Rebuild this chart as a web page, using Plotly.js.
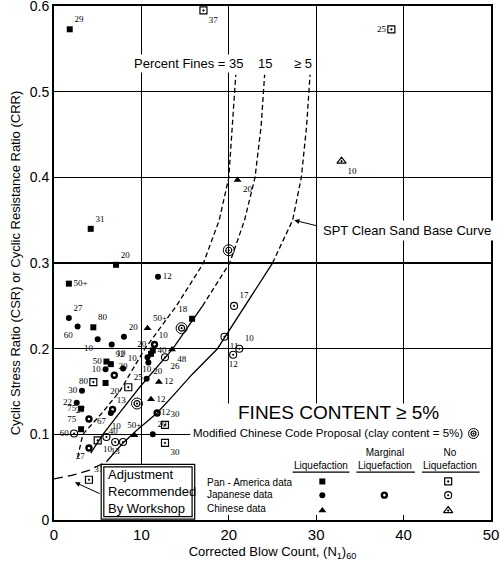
<!DOCTYPE html>
<html>
<head>
<meta charset="utf-8">
<script src="https://cdn.plot.ly/plotly-3.0.1.min.js"></script>
<style>
  body { margin: 0; background: white; }
  #chart { width: 500px; height: 561px; }
</style>
</head>
<body>
<div id="chart"></div>
<script>
// axis ticks
var xTicks = [0, 10, 20, 30, 40, 50];
var yTicks = [0, 0.1, 0.2, 0.3, 0.4, 0.5, 0.6];
var yTickText = ['0', '0.1', '0.2', '0.3', '0.4', '0.5', '0.6'];

// boundary curves, (N1)60 vs CRR
var fines35N = [2.7, 3.3, 5.5, 7.5, 10.4, 14.0, 17.1, 18.9, 20.0, 20.6, 20.8];
var fines35CRR = [0.073, 0.10, 0.125, 0.15, 0.20, 0.25, 0.30, 0.35, 0.40, 0.50, 0.52];
var fines15N = [4.2, 5.6, 7.5, 9.8, 13.6, 17.0];
var fines15CRR = [0.078, 0.10, 0.125, 0.155, 0.20, 0.25];
var fines15TopN = [17.0, 20.1, 21.8, 23.0, 23.7, 24.1];
var fines15TopCRR = [0.25, 0.30, 0.35, 0.40, 0.46, 0.52];
var fines5N = [6.0, 7.9, 9.5, 11.8, 13.6, 15.8, 18.7, 21.8, 25.0];
var fines5CRR = [0.068, 0.09, 0.105, 0.125, 0.145, 0.17, 0.20, 0.25, 0.30];
var fines5TopN = [25.0, 27.3, 28.3, 28.9, 29.3];
var fines5TopCRR = [0.30, 0.35, 0.40, 0.46, 0.52];
var workshopN = [0, 2, 4, 6];
var workshopCRR = [0.048, 0.052, 0.058, 0.068];

// Pan-America data
var panLiqN = [1.8, 4.2, 7.1, 1.7, 4.5, 15.8, 6.0, 6.5, 5.9, 3.1, 3.1, 11.3, 11.1];
var panLiqCRR = [0.573, 0.340, 0.298, 0.276, 0.225, 0.235, 0.185, 0.182, 0.160, 0.130, 0.106, 0.198, 0.194];
var panLiqLabel = ['29', '31', '20', '50+', '80', '18', '50', '92', '20', '75', '75', '40', '20'];
var panNoN = [17.1, 38.6, 4.5, 8.5, 12.7, 12.7, 4.0, 5.0];
var panNoCRR = [0.595, 0.573, 0.161, 0.155, 0.111, 0.090, 0.047, 0.093];
var panNoLabel = ['37', '25', '80', '25', '30', '30', '31', '10'];

// Japanese data
var jpLiqN = [11.9, 1.7, 2.7, 8.0, 5.0, 6.6, 5.9, 7.9, 3.2, 2.6, 10.6, 10.7, 10.8, 11.3, 6.5];
var jpLiqCRR = [0.284, 0.236, 0.226, 0.214, 0.211, 0.205, 0.176, 0.177, 0.151, 0.137, 0.165, 0.190, 0.184, 0.100, 0.125];
var jpLiqLabel = ['12', '27', '60', '20', '10', '10', '10', '10', '30', '22', '10', '', '20', '20', '67'];
var jpMargN = [6.9, 6.7, 4.0, 4.0, 11.8, 11.5];
var jpMargCRR = [0.169, 0.129, 0.118, 0.084, 0.125, 0.205];
var jpMargLabel = ['20', '13', '27', '27', '12', '10'];
var jpNoN = [20.6, 19.5, 21.2, 20.5, 12.7, 2.3, 6.0, 7.0, 7.9];
var jpNoCRR = [0.250, 0.214, 0.200, 0.193, 0.190, 0.101, 0.097, 0.091, 0.091];
var jpNoLabel = ['17', '11', '10', '12', '26', '60', '10', '13', '40'];

// Chinese data
var cnLiqN = [21.0, 10.7, 13.5, 12.0, 11.1, 9.2];
var cnLiqCRR = [0.397, 0.224, 0.199, 0.161, 0.141, 0.099];
var cnLiqLabel = ['20', '50+', '48', '12', '12', '50+'];
var cnNoN = [32.9];
var cnNoCRR = [0.419];
var cnNoLabel = ['10'];

// modified Chinese code proposal points
var codeN = [20.0, 14.6, 9.5];
var codeCRR = [0.315, 0.224, 0.136];

function curve(x, y, dash) {
  return { x: x, y: y, type: 'scatter', mode: 'lines', hoverinfo: 'skip',
    line: { color: 'black', width: 1.3, dash: dash } };
}

function points(x, y, labels, pos, symbol, size, lw) {
  return { x: x, y: y, text: labels, type: 'scatter', mode: 'markers+text',
    textposition: pos, cliponaxis: false,
    textfont: { family: 'Liberation Serif, Times New Roman, serif', size: 9, color: '#000000' },
    marker: { symbol: symbol, size: size, color: '#000000', line: { color: '#000000', width: lw } } };
}

var data = [
  curve(fines35N, fines35CRR, '5px,3px'),
  curve(fines15N, fines15CRR, 'solid'),
  curve(fines15TopN, fines15TopCRR, '5px,3px'),
  curve(fines5N, fines5CRR, 'solid'),
  curve(fines5TopN, fines5TopCRR, '5px,3px'),
  curve(workshopN, workshopCRR, '9px,5px'),
  points(panLiqN, panLiqCRR, panLiqLabel,
    ['top right', 'top right', 'top right', 'middle right', 'top right', 'top left', 'middle left',
     'top right', 'bottom right', 'middle left', 'top left', 'middle right', 'top left'],
    'square', 6, 0),
  points(panNoN, panNoCRR, panNoLabel,
    ['bottom right', 'middle left', 'middle left', 'top right', 'top right', 'bottom right', 'top right', 'bottom right'],
    'square-open-dot', 7, 1.2),
  points(jpLiqN, jpLiqCRR, jpLiqLabel,
    ['middle right', 'top right', 'bottom left', 'top right', 'bottom left', 'bottom right', 'middle left',
     'top right', 'middle left', 'middle left', 'top center', 'middle right', 'bottom right', 'top right', 'bottom left'],
    'circle', 6, 0),
  points(jpMargN, jpMargCRR, jpMargLabel,
    ['top right', 'top right', 'top left', 'bottom left', 'middle right', 'top right'],
    'circle-open', 5, 2.4),
  points(jpNoN, jpNoCRR, jpNoLabel,
    ['top right', 'bottom right', 'top right', 'bottom center', 'bottom right', 'middle left',
     'top right', 'bottom center', 'top left'],
    'circle-open-dot', 7, 1.1),
  points(cnLiqN, cnLiqCRR, cnLiqLabel,
    ['bottom right', 'top right', 'bottom right', 'middle right', 'middle right', 'top center'],
    'triangle-up', 7, 0),
  points(cnNoN, cnNoCRR, cnNoLabel, ['bottom right'], 'triangle-up-open-dot', 8, 1.2),
  { x: codeN, y: codeCRR, type: 'scatter', mode: 'markers', hoverinfo: 'skip',
    marker: { symbol: 'circle-open', size: 11, color: '#000000', line: { color: '#000000', width: 1 } } },
  { x: codeN, y: codeCRR, type: 'scatter', mode: 'markers', hoverinfo: 'skip',
    marker: { symbol: 'circle-open-dot', size: 6, color: '#000000', line: { color: '#000000', width: 1.2 } } }
];

// key glyphs in the lower right box
var keyCols = [30.7, 37.8, 45.1];
var keyRows = [0.045, 0.029, 0.011];
data.push(
  { x: [keyCols[0]], y: [keyRows[0]], mode: 'markers', marker: { symbol: 'square', size: 6, color: '#000000' } },
  { x: [keyCols[2]], y: [keyRows[0]], mode: 'markers', marker: { symbol: 'square-open-dot', size: 7, color: '#000000', line: { width: 1.2 } } },
  { x: [keyCols[0]], y: [keyRows[1]], mode: 'markers', marker: { symbol: 'circle', size: 6, color: '#000000' } },
  { x: [keyCols[1]], y: [keyRows[1]], mode: 'markers', marker: { symbol: 'circle-open', size: 5, color: '#000000', line: { width: 2.4 } } },
  { x: [keyCols[2]], y: [keyRows[1]], mode: 'markers', marker: { symbol: 'circle-open-dot', size: 7, color: '#000000', line: { width: 1.1 } } },
  { x: [keyCols[0]], y: [keyRows[2]], mode: 'markers', marker: { symbol: 'triangle-up', size: 7, color: '#000000' } },
  { x: [keyCols[2]], y: [keyRows[2]], mode: 'markers', marker: { symbol: 'triangle-up-open-dot', size: 8, color: '#000000', line: { width: 1.2 } } },
  { x: [48.0], y: [0.101], mode: 'markers', marker: { symbol: 'circle-open', size: 10, color: '#000000', line: { width: 1 } } },
  { x: [48.0], y: [0.101], mode: 'markers', marker: { symbol: 'circle-open-dot', size: 5, color: '#000000', line: { width: 1.2 } } }
);

var small = { size: 10, color: 'black' };

var layout = {
  width: 500,
  height: 561,
  margin: { l: 54, r: 9, t: 6, b: 41 },
  paper_bgcolor: 'white',
  plot_bgcolor: 'white',
  showlegend: false,
  font: { family: 'Liberation Sans, Arial, sans-serif', color: 'black' },
  xaxis: {
    range: [0, 50],
    tickvals: xTicks,
    showgrid: true, gridcolor: 'black', gridwidth: 1.3,
    zeroline: false,
    showline: true, mirror: true, linecolor: 'black', linewidth: 2,
    ticks: 'inside', ticklen: 5, tickcolor: 'black',
    tickfont: { size: 15 },
    title: { text: 'Corrected Blow Count, (N<sub>1</sub>)<sub>60</sub>', font: { size: 13 }, standoff: 8 }
  },
  yaxis: {
    range: [0, 0.6002],
    tickvals: yTicks,
    ticktext: yTickText,
    ticklabeloverflow: 'allow',
    showgrid: true, gridcolor: 'black', gridwidth: 1.3,
    zeroline: false,
    showline: true, mirror: true, linecolor: 'black', linewidth: 2,
    ticks: 'inside', ticklen: 5, tickcolor: 'black',
    tickfont: { size: 14 },
    title: { text: 'Cyclic Stress Ratio (CSR) or Cyclic Resistance Ratio (CRR)', font: { size: 13 }, standoff: 6 }
  },
  shapes: [
    // blank area behind the key
    { type: 'rect', xref: 'x', yref: 'y', x0: 15.6, x1: 50, y0: 0, y1: 0.136,
      fillcolor: 'white', line: { width: 0 }, layer: 'between' },
    // workshop box, double border
    { type: 'rect', xref: 'x', yref: 'y', x0: 5.4, x1: 16.1, y0: 0.001, y1: 0.065,
      fillcolor: 'white', line: { color: 'black', width: 1.2 }, layer: 'above' },
    { type: 'rect', xref: 'x', yref: 'y', x0: 5.7, x1: 15.8, y0: 0.004, y1: 0.062,
      fillcolor: 'white', line: { color: 'black', width: 1.2 }, layer: 'above' },
    // key header underlines
    { type: 'line', xref: 'x', yref: 'y', x0: 27.3, x1: 33.8, y0: 0.056, y1: 0.056, line: { color: 'black', width: 1.2 } },
    { type: 'line', xref: 'x', yref: 'y', x0: 34.6, x1: 41.3, y0: 0.056, y1: 0.056, line: { color: 'black', width: 1.2 } },
    { type: 'line', xref: 'x', yref: 'y', x0: 42.1, x1: 48.7, y0: 0.056, y1: 0.056, line: { color: 'black', width: 1.2 } }
  ],
  annotations: [
    { x: 21.9, y: 0.533, xanchor: 'right', text: 'Percent Fines = 35', showarrow: false,
      font: { size: 13 }, bgcolor: 'white', borderpad: 1 },
    { x: 24.1, y: 0.533, text: '15', showarrow: false, font: { size: 13 }, bgcolor: 'white', borderpad: 1 },
    { x: 28.5, y: 0.533, text: '\u2265 5', showarrow: false, font: { size: 13 }, bgcolor: 'white', borderpad: 1 },
    { x: 30.4, y: 0.338, xanchor: 'left', text: 'SPT Clean Sand Base Curve', showarrow: false,
      font: { size: 13 }, bgcolor: 'white', borderpad: 2 },
    { x: 27.5, y: 0.350, ax: 30.3, ay: 0.343, axref: 'x', ayref: 'y', text: '', showarrow: true,
      arrowhead: 2, arrowsize: 1, arrowwidth: 1, arrowcolor: 'black' },
    { x: 32.5, y: 0.126, text: 'FINES CONTENT \u2265 5%', showarrow: false, font: { size: 19 } },
    { x: 31.4, y: 0.102, text: 'Modified Chinese Code Proposal (clay content = 5%)', showarrow: false, font: { size: 11.5 } },
    { x: 30.6, y: 0.064, text: 'Liquefaction', showarrow: false, font: small },
    { x: 37.9, y: 0.0715, text: 'Marginal<br>Liquefaction', showarrow: false, font: small },
    { x: 45.3, y: 0.0715, text: 'No<br>Liquefaction', showarrow: false, font: small },
    { x: 17.3, y: 0.044, xanchor: 'left', text: 'Pan - America data', showarrow: false, font: small },
    { x: 17.3, y: 0.030, xanchor: 'left', text: 'Japanese data', showarrow: false, font: small },
    { x: 17.3, y: 0.014, xanchor: 'left', text: 'Chinese data', showarrow: false, font: small },
    { x: 5.9, y: 0.033, xanchor: 'left', align: 'left', text: 'Adjustment<br>Recommended<br>By Workshop',
      showarrow: false, font: { size: 13 } },
    { x: 2.4, y: 0.044, ax: 5.4, ay: 0.030, axref: 'x', ayref: 'y', text: '', showarrow: true,
      arrowhead: 2, arrowsize: 1, arrowwidth: 1, arrowcolor: 'black' }
  ]
};

Plotly.newPlot('chart', data, layout, { staticPlot: true });
</script>
</body>
</html>
